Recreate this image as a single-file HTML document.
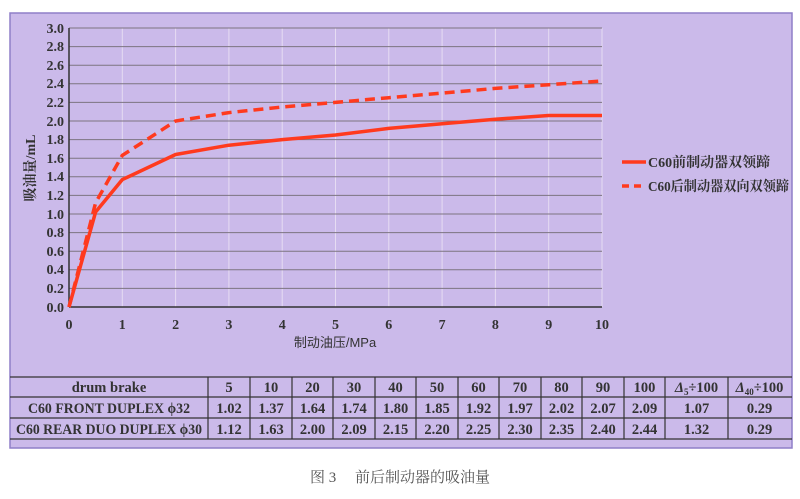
<!DOCTYPE html>
<html><head><meta charset="utf-8"><style>
html,body{margin:0;padding:0;background:#fff;}
body{width:800px;height:499px;position:relative;overflow:hidden;font-family:"Liberation Serif","Noto Serif CJK SC",serif;}
</style></head><body>
<svg width="800" height="499" viewBox="0 0 800 499" xmlns="http://www.w3.org/2000/svg" style="position:absolute;left:0;top:0">
<rect x="10" y="13" width="782" height="435" fill="#cbbaea" stroke="#8f7fc8" stroke-width="1.5"/>
<g stroke="#e6dcf2" stroke-width="1">
<line x1="122.3" y1="28" x2="122.3" y2="307"/><line x1="175.6" y1="28" x2="175.6" y2="307"/><line x1="228.9" y1="28" x2="228.9" y2="307"/><line x1="282.2" y1="28" x2="282.2" y2="307"/><line x1="335.5" y1="28" x2="335.5" y2="307"/><line x1="388.8" y1="28" x2="388.8" y2="307"/><line x1="442.1" y1="28" x2="442.1" y2="307"/><line x1="495.4" y1="28" x2="495.4" y2="307"/><line x1="548.7" y1="28" x2="548.7" y2="307"/><line x1="602" y1="28" x2="602" y2="307"/>
</g>
<g stroke="#7d7480" stroke-width="1">
<line x1="69" y1="28" x2="602" y2="28"/><line x1="69" y1="46.6" x2="602" y2="46.6"/><line x1="69" y1="65.2" x2="602" y2="65.2"/><line x1="69" y1="83.8" x2="602" y2="83.8"/><line x1="69" y1="102.4" x2="602" y2="102.4"/><line x1="69" y1="121" x2="602" y2="121"/><line x1="69" y1="139.6" x2="602" y2="139.6"/><line x1="69" y1="158.2" x2="602" y2="158.2"/><line x1="69" y1="176.8" x2="602" y2="176.8"/><line x1="69" y1="195.4" x2="602" y2="195.4"/><line x1="69" y1="214" x2="602" y2="214"/><line x1="69" y1="232.6" x2="602" y2="232.6"/><line x1="69" y1="251.2" x2="602" y2="251.2"/><line x1="69" y1="269.8" x2="602" y2="269.8"/><line x1="69" y1="288.4" x2="602" y2="288.4"/>
</g>
<g stroke="#333" stroke-width="1.5">
<line x1="69" y1="28" x2="69" y2="307"/><line x1="69" y1="307" x2="602" y2="307"/>
</g>
<g font-size="14" font-weight="bold" fill="#333" text-anchor="end">
<text x="64" y="33">3.0</text><text x="64" y="51">2.8</text><text x="64" y="70">2.6</text><text x="64" y="88">2.4</text><text x="64" y="107">2.2</text><text x="64" y="126">2.0</text><text x="64" y="144">1.8</text><text x="64" y="163">1.6</text><text x="64" y="181">1.4</text><text x="64" y="200">1.2</text><text x="64" y="219">1.0</text><text x="64" y="237">0.8</text><text x="64" y="256">0.6</text><text x="64" y="274">0.4</text><text x="64" y="293">0.2</text><text x="64" y="312">0.0</text>
</g>
<g font-size="14" font-weight="bold" fill="#333" text-anchor="middle">
<text x="69" y="329">0</text><text x="122.3" y="329">1</text><text x="175.6" y="329">2</text><text x="228.9" y="329">3</text><text x="282.2" y="329">4</text><text x="335.5" y="329">5</text><text x="388.8" y="329">6</text><text x="442.1" y="329">7</text><text x="495.4" y="329">8</text><text x="548.7" y="329">9</text><text x="602" y="329">10</text>
<text x="335" y="347" font-family="'Liberation Sans','Noto Sans CJK SC',sans-serif" font-size="13" font-weight="normal">制动油压/MPa</text>
<text transform="translate(35,168) rotate(-90)" font-size="14">吸油量/mL</text>
</g>
<polyline fill="none" stroke="#ff3a1e" stroke-width="3.5" stroke-linejoin="round" points="69,307 95.6,212 122.3,179.6 175.6,154.5 228.9,145.2 282.2,139.6 335.5,135 388.8,128.4 442.1,123.8 495.4,119.2 548.7,115.5 602,115.5"/>
<polyline fill="none" stroke="#ff3a1e" stroke-width="3.5" stroke-dasharray="10,6" points="69,307 95.6,202.8 122.3,155.4 175.6,121 228.9,112.6 282.2,107 335.5,102.4 388.8,97.7 442.1,93.1 495.4,88.4 548.7,84.7 602,81"/>
<line x1="622" y1="162" x2="646" y2="162" stroke="#ff3a1e" stroke-width="3.5"/>
<line x1="622" y1="186" x2="646" y2="186" stroke="#ff3a1e" stroke-width="3.5" stroke-dasharray="7,5"/>
<g font-size="14" font-weight="bold" fill="#333">
<text x="648" y="167">C60前制动器双领蹄</text>
<text x="648" y="191" textLength="141" lengthAdjust="spacingAndGlyphs">C60后制动器双向双领蹄</text>
</g>
<g stroke="#333" stroke-width="1.2">
<line x1="10" y1="377" x2="792" y2="377"/><line x1="10" y1="397" x2="792" y2="397"/><line x1="10" y1="418" x2="792" y2="418"/><line x1="10" y1="439" x2="792" y2="439"/>
<line x1="208" y1="377" x2="208" y2="439"/><line x1="250" y1="377" x2="250" y2="439"/><line x1="292" y1="377" x2="292" y2="439"/><line x1="333" y1="377" x2="333" y2="439"/><line x1="375" y1="377" x2="375" y2="439"/><line x1="416" y1="377" x2="416" y2="439"/><line x1="458" y1="377" x2="458" y2="439"/><line x1="499" y1="377" x2="499" y2="439"/><line x1="541" y1="377" x2="541" y2="439"/><line x1="582" y1="377" x2="582" y2="439"/><line x1="624" y1="377" x2="624" y2="439"/><line x1="665" y1="377" x2="665" y2="439"/><line x1="728" y1="377" x2="728" y2="439"/>
</g>
<g font-size="14.5" font-weight="bold" fill="#333" text-anchor="middle">
<text x="109" y="392">drum brake</text><text x="229" y="392">5</text><text x="271" y="392">10</text><text x="312.5" y="392">20</text><text x="354" y="392">30</text><text x="395.5" y="392">40</text><text x="437" y="392">50</text><text x="478.5" y="392">60</text><text x="520" y="392">70</text><text x="561.5" y="392">80</text><text x="603" y="392">90</text><text x="644.5" y="392">100</text><text x="696.5" y="392"><tspan font-style="italic">Δ</tspan><tspan font-size="9" dy="3">5</tspan><tspan dy="-3">÷100</tspan></text><text x="759.5" y="392"><tspan font-style="italic">Δ</tspan><tspan font-size="9" dy="3">40</tspan><tspan dy="-3">÷100</tspan></text>
<text x="109" y="413" textLength="162" lengthAdjust="spacingAndGlyphs">C60 FRONT DUPLEX ϕ32</text><text x="229" y="413">1.02</text><text x="271" y="413">1.37</text><text x="312.5" y="413">1.64</text><text x="354" y="413">1.74</text><text x="395.5" y="413">1.80</text><text x="437" y="413">1.85</text><text x="478.5" y="413">1.92</text><text x="520" y="413">1.97</text><text x="561.5" y="413">2.02</text><text x="603" y="413">2.07</text><text x="644.5" y="413">2.09</text><text x="696.5" y="413">1.07</text><text x="759.5" y="413">0.29</text>
<text x="109" y="434" textLength="186" lengthAdjust="spacingAndGlyphs">C60 REAR DUO DUPLEX ϕ30</text><text x="229" y="434">1.12</text><text x="271" y="434">1.63</text><text x="312.5" y="434">2.00</text><text x="354" y="434">2.09</text><text x="395.5" y="434">2.15</text><text x="437" y="434">2.20</text><text x="478.5" y="434">2.25</text><text x="520" y="434">2.30</text><text x="561.5" y="434">2.35</text><text x="603" y="434">2.40</text><text x="644.5" y="434">2.44</text><text x="696.5" y="434">1.32</text><text x="759.5" y="434">0.29</text>
</g>
<text x="400" y="482" font-size="15" fill="#555" text-anchor="middle" font-family="'Liberation Serif','Noto Serif CJK SC',serif">图 3　 前后制动器的吸油量</text>
</svg>
</body></html>
